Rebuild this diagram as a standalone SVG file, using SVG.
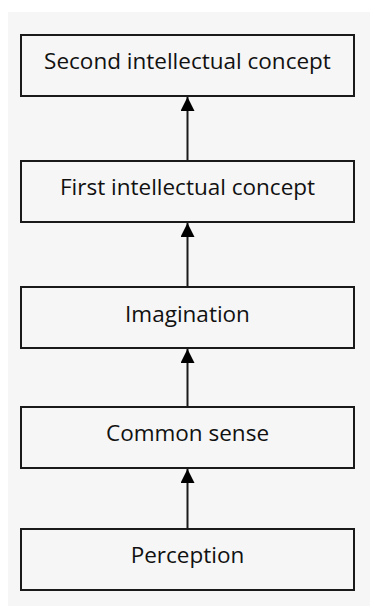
<svg xmlns="http://www.w3.org/2000/svg" width="370" height="606" viewBox="0 0 370 606">
  <style>
    .box { fill: #f6f6f6; stroke: #1a1a1a; stroke-width: 2; }
    .label { font-family: "Open Sans", "Noto Sans", sans-serif; font-size: 22.5px; fill: #111; text-anchor: middle; }
    .link { stroke: #1a1a1a; stroke-width: 2; fill: none; marker-end: url(#head); }
  </style>
  <defs>
    <marker id="head" markerWidth="14" markerHeight="14" refX="14" refY="7" orient="auto" markerUnits="userSpaceOnUse">
      <path d="M0,0 L14,7 L0,14 Z" fill="#000"/>
    </marker>
  </defs>
  <rect x="0" y="0" width="370" height="606" fill="#ffffff"/>
  <rect x="8" y="12" width="362" height="594" fill="#f6f6f6"/>

  <g id="connectors">
    <line class="link" x1="187.5" y1="529" x2="187.5" y2="469"/>
    <line class="link" x1="187.5" y1="407" x2="187.5" y2="349"/>
    <line class="link" x1="187.5" y1="287" x2="187.5" y2="223"/>
    <line class="link" x1="187.5" y1="161" x2="187.5" y2="97"/>
  </g>

  <g id="second-intellectual-concept">
    <rect class="box" x="21" y="35" width="333" height="61"/>
    <text class="label" x="187.5" y="68.5">Second intellectual concept</text>
  </g>
  <g id="first-intellectual-concept">
    <rect class="box" x="21" y="161" width="333" height="61"/>
    <text class="label" x="187.5" y="194.5">First intellectual concept</text>
  </g>
  <g id="imagination">
    <rect class="box" x="21" y="287" width="333" height="61"/>
    <text class="label" x="187.5" y="321.5">Imagination</text>
  </g>
  <g id="common-sense">
    <rect class="box" x="21" y="407" width="333" height="61"/>
    <text class="label" x="187.5" y="441">Common sense</text>
  </g>
  <g id="perception">
    <rect class="box" x="21" y="529" width="333" height="61"/>
    <text class="label" x="187.5" y="563">Perception</text>
  </g>
</svg>
